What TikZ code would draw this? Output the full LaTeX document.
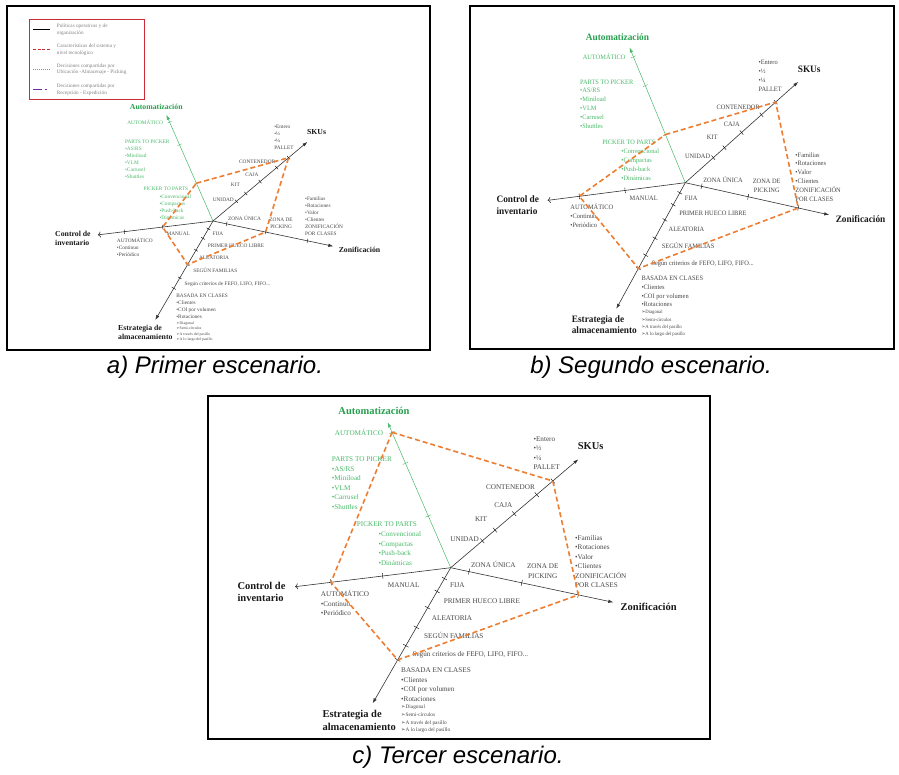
\documentclass[tikz,border=0pt]{standalone}
\usepackage{fontspec}
\setmainfont{Liberation Serif}
\newfontfamily\capfont{Liberation Sans}
\newfontfamily\arrfont{DejaVu Sans}
\usetikzlibrary{calc,arrows.meta}

\definecolor{verde}{RGB}{72,184,104}
\definecolor{verdeosc}{RGB}{38,160,78}
\definecolor{naranja}{RGB}{237,125,49}
\definecolor{gristxt}{RGB}{70,70,70}
\definecolor{rojoley}{RGB}{200,45,55}
\definecolor{moradoley}{RGB}{112,48,160}

\tikzset{
  eje/.style={line width=0.6pt, black!80, -{Latex[length=5pt,width=3.4pt]}},
  ejeverde/.style={line width=0.5pt, verde, -{Latex[length=5pt,width=3.4pt]}},
  ejecontrol/.style={line width=0.6pt, black!80, -{To[length=3pt,width=6pt]}},
  marca/.style={draw, inner sep=0pt, minimum width=0pt, minimum height=6pt, line width=0.4pt, sloped},
  titulo/.style={font=\fontsize{10.5}{12.4}\selectfont\bfseries, text=black!90, inner sep=0pt},
  etq/.style={font=\fontsize{7.2}{9.5}\selectfont, text=gristxt, inner sep=0pt},
  etqv/.style={etq, text=verde},
  mini/.style={font=\fontsize{5.3}{7.7}\selectfont, text=gristxt, inner sep=0pt},
  poligono/.style={naranja, dash pattern=on 5pt off 3pt, line width=1.6pt, line join=round},
  leyenda/.style={font=\fontsize{5.2}{6.7}\selectfont, text=gray, align=left, anchor=west, inner sep=0pt},
  pie/.style={font=\capfont\itshape\fontsize{24}{27}\selectfont},
}

% ejes, marcas y textos comunes (#1 = prefijo de los nombres)
\def\radar#1{%
  \coordinate (#1O) at (0,0);
  \coordinate (#1A) at (-63,-145.4);
  \coordinate (#1S) at (127.6,-108.4);
  \coordinate (#1C) at (-155.7,19);
  \coordinate (#1Z) at (162.6,34.6);
  \coordinate (#1E) at (-78,135.6);
  \draw[ejeverde] (#1O) -- (#1A);
  \draw[eje] (#1O) -- (#1S);
  \draw[eje] (#1O) -- (#1Z);
  \draw[eje] (#1O) -- (#1E);
  \draw[ejecontrol] (#1O) -- (#1C);
  \foreach \f in {0.356,0.718,0.931} \path (#1O) -- (#1A) node[marca, draw=verde, pos=\f] {};
  \foreach \f in {0.248,0.347,0.498,0.674,0.80} \path (#1O) -- (#1S) node[marca, pos=\f] {};
  \foreach \f in {0.113,0.437,0.785} \path (#1O) -- (#1Z) node[marca, pos=\f] {};
  \foreach \f in {0.437,0.769} \path (#1O) -- (#1C) node[marca, pos=\f] {};
  \foreach \f in {0.08,0.175,0.295,0.44,0.575,0.68} \path (#1O) -- (#1E) node[marca, pos=\f] {};
  % automatizacion
  \node[titulo, text=verdeosc] (#1tauto) at (-76.7,-157) {Automatización};
  \node[etqv, anchor=east] (#1autom) at (-67.4,-135) {AUTOMÁTICO};
  \node[etqv, anchor=west, align=left] (#1ptp) at (-119,-84.7) {PARTS TO PICKER\\•AS/RS\\•Miniload\\•VLM\\•Carrusel\\•Shuttles};
  \node[etqv, anchor=west] (#1pkp) at (-94,-43.7) {PICKER TO PARTS};
  \node[etqv, anchor=west, align=left] (#1conv) at (-72.4,-19.2) {•Convencional\\•Compactas\\•Push-back\\•Dinámicas};
  % skus
  \node[titulo] (#1tsku) at (140,-121.7) {SKUs};
  \node[etq, anchor=west, align=left] (#1ent) at (82.6,-114.7) {•Entero\\•½\\•¼\\PALLET};
  \node[etq, anchor=east] (#1cont) at (84.3,-81) {CONTENEDOR};
  \node[etq] (#1caja) at (52.6,-62.7) {CAJA};
  \node[etq] (#1kit) at (30.3,-49) {KIT};
  \node[etq, anchor=east] (#1uni) at (28.3,-28.7) {UNIDAD};
  % zonificacion
  \node[etq] (#1zu) at (42.6,-3.4) {ZONA ÚNICA};
  \node[etq, align=center] (#1zp) at (92,3.2) {ZONA DE\\PICKING};
  \node[etq, anchor=west, align=left] (#1fam) at (124.3,-6.35) {•Familias\\•Rotaciones\\•Valor\\•Clientes\\ZONIFICACIÓN\\POR CLASES};
  \node[titulo] (#1tzon) at (198,39.6) {Zonificación};
  % control de inventario
  \node[titulo, anchor=west, align=left] (#1tcon) at (-213.4,24) {Control de\\inventario};
  \node[etq, anchor=west, align=left] (#1aut2) at (-130,35.5) {AUTOMÁTICO\\•Continuo\\•Periódico};
  \node[etq] (#1man) at (-47,17.3) {MANUAL};
  % estrategia
  \node[etq] (#1fija) at (6.6,17.3) {FIJA};
  \node[etq, anchor=west] (#1phl) at (-7,33.3) {PRIMER HUECO LIBRE};
  \node[etq, anchor=west] (#1ale) at (-19,50.6) {ALEATORIA};
  \node[etq, anchor=west] (#1sf) at (-26.7,67.3) {SEGÚN FAMILIAS};
  \node[etq, anchor=west] (#1fefo) at (-38.4,87.3) {Según criterios de FEFO, LIFO, FIFO...};
  \node[etq, anchor=west, align=left] (#1bec) at (-49.7,117) {BASADA EN CLASES\\•Clientes\\•COI por volumen\\•Rotaciones};
  \node[mini, anchor=west, align=left] (#1sub) at (-49.7,151.4) {{\arrfont ➢}Diagonal\\{\arrfont ➢}Semi-círculos\\{\arrfont ➢}A través del pasillo\\{\arrfont ➢}A lo largo del pasillo};
  \node[titulo, anchor=west, align=left] (#1test) at (-128.4,152.8) {Estrategia de\\almacenamiento};
}

\begin{document}
\begin{tikzpicture}[x=1pt,y=-1pt]
  %%%%% START %%%%%
  \useasboundingbox (0,0) rectangle (899,774);

  % a) primer escenario
  \draw[line width=1.6pt] (7,6) rectangle (430,350);
  \draw[rojoley, line width=0.9pt] (29,19.5) rectangle (144,99);
  \draw[black, line width=1.3pt] (33,29.3) -- (50,29.3);
  \draw[rojoley, line width=1.4pt, dash pattern=on 3pt off 1.5pt] (33,49.3) -- (50,49.3);
  \draw[verde, line width=1.1pt, dash pattern=on 1pt off 1pt] (33,69.3) -- (50,69.3);
  \draw[moradoley, line width=1.4pt, dash pattern=on 9pt off 3pt on 2pt off 3pt] (33,89.3) -- (50,89.3);
  \node[leyenda] (ley1) at (56.7,29.7) {Políticas operativas y de\\organización};
  \node[leyenda] (ley2) at (56.7,49.7) {Características del sistema y\\nivel tecnológico};
  \node[leyenda] (ley3) at (56.7,69.4) {Decisiones compartidas por\\Ubicación -Almacenaje - Picking};
  \node[leyenda] (ley4) at (56.7,89.7) {Decisiones compartidas por\\Recepción - Expedición};
  \begin{scope}[shift={(213,221)}, xscale=0.74, yscale=0.73, transform shape]
    \radar{a}
    \draw[poligono] ($(aO)!0.356!(aA)$) -- ($(aO)!0.80!(aS)$) -- ($(aO)!0.437!(aZ)$)
      -- ($(aO)!0.44!(aE)$) -- ($(aO)!0.437!(aC)$) -- cycle;
  \end{scope}
  \node[pie] (piea) at (215,367) {a) Primer escenario.};

  % b) segundo escenario
  \draw[line width=1.6pt] (470,6) rectangle (894,349);
  \begin{scope}[shift={(685.3,182.7)}, xscale=0.885, yscale=0.93, transform shape]
    \radar{b}
    \draw[poligono] ($(bO)!0.356!(bA)$) -- ($(bO)!0.80!(bS)$) -- ($(bO)!0.785!(bZ)$)
      -- ($(bO)!0.68!(bE)$) -- ($(bO)!0.769!(bC)$) -- cycle;
  \end{scope}
  \node[pie] (pieb) at (651,367) {b) Segundo escenario.};

  % c) tercer escenario
  \draw[line width=1.6pt] (208,396) rectangle (710,739);
  \begin{scope}[shift={(450.7,567.7)}, transform shape]
    \radar{c}
    \draw[poligono] ($(cO)!0.931!(cA)$) -- ($(cO)!0.80!(cS)$) -- ($(cO)!0.785!(cZ)$)
      -- ($(cO)!0.68!(cE)$) -- ($(cO)!0.769!(cC)$) -- cycle;
  \end{scope}
  \node[pie] (piec) at (458,757) {c) Tercer escenario.};
  %%%%% END %%%%%
\end{tikzpicture}
\end{document}
